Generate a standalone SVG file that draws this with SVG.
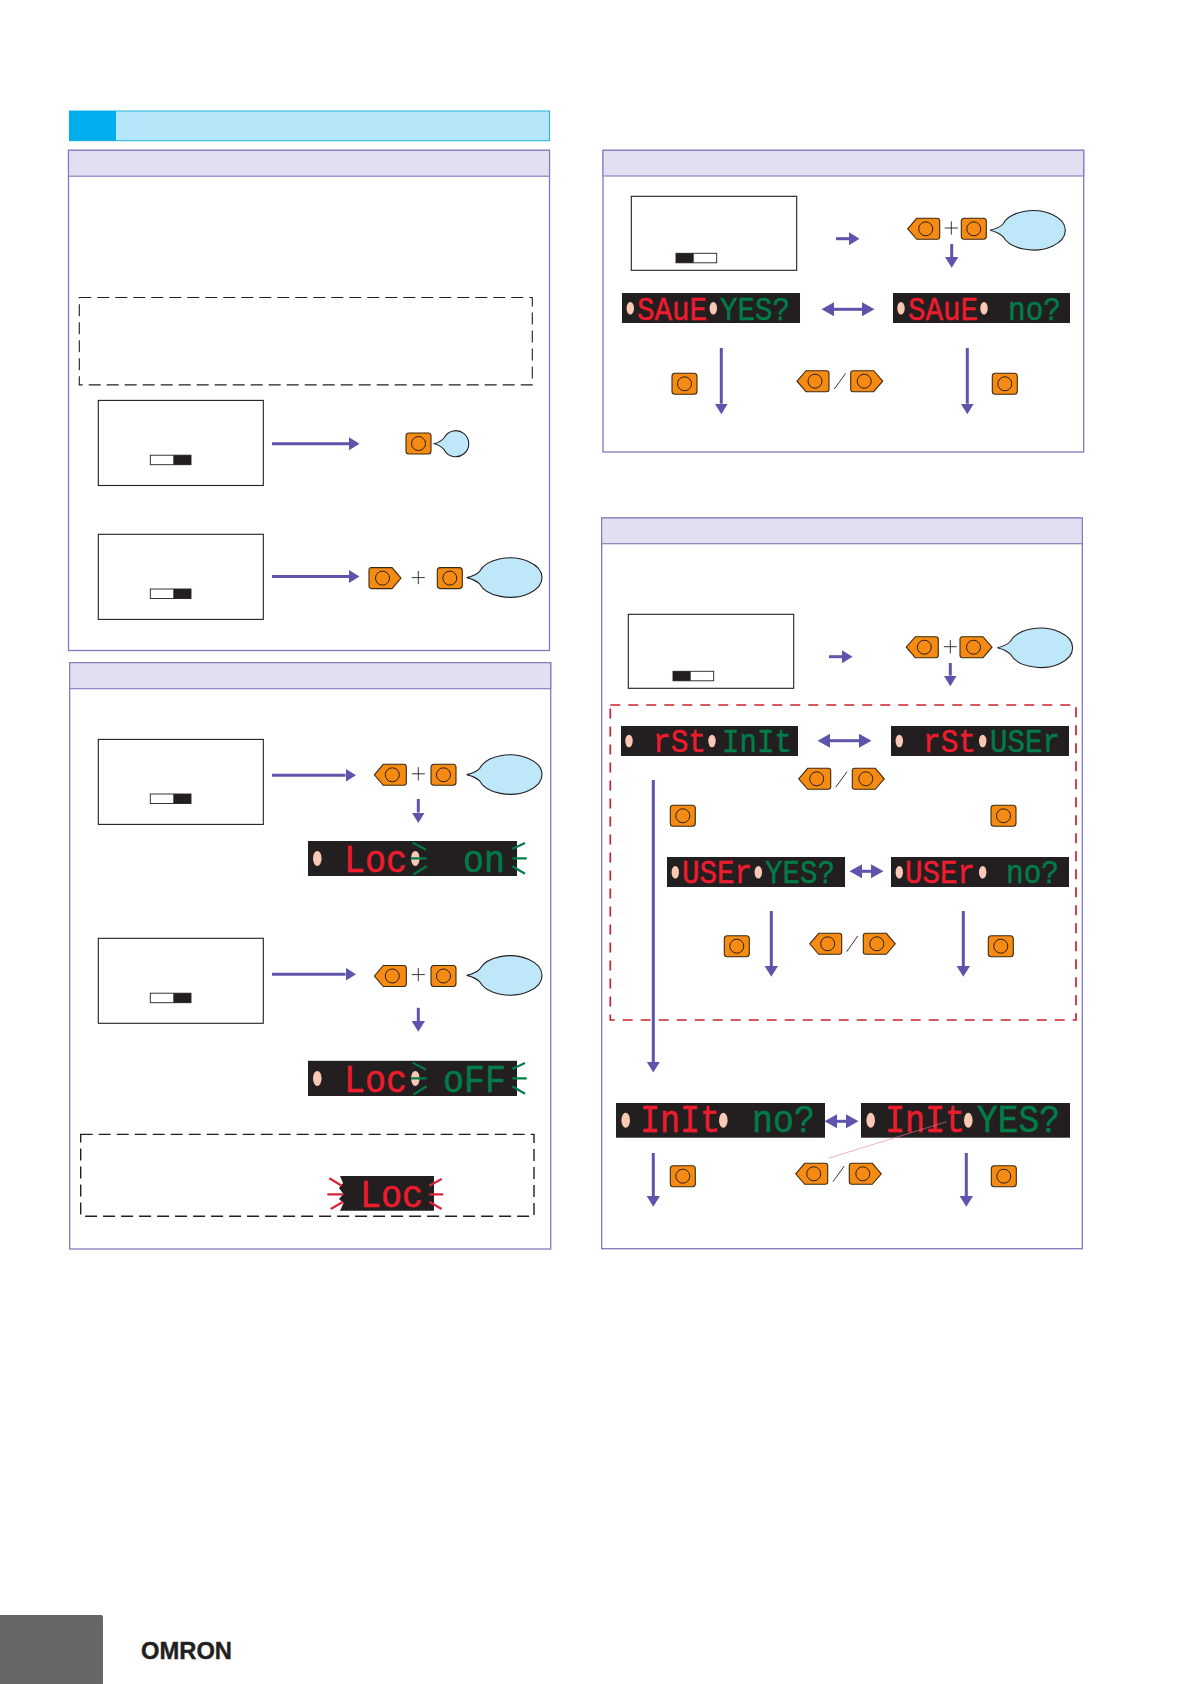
<svg xmlns="http://www.w3.org/2000/svg" xmlns:xlink="http://www.w3.org/1999/xlink" width="1190" height="1684" viewBox="0 0 1190 1684">
<style>
.panel{fill:#fff;stroke:#8279bd;stroke-width:1.3}
.band{fill:#e3dff2;stroke:#8279bd;stroke-width:1.1}
.box{fill:#fff;stroke:#231f20;stroke-width:1.1}
.dash{fill:none;stroke:#231f20;stroke-width:1.1;stroke-dasharray:12 6}
.dash2{fill:none;stroke:#231f20;stroke-width:1.4;stroke-dasharray:12 6}
.red-dash{fill:none;stroke:#c9222f;stroke-width:1.7;stroke-dasharray:10 8}
.sw{fill:#fff;stroke:#231f20;stroke-width:.9}
.swd{fill:#231f20}
.btn{fill:#f68b13;stroke:#3b2a12;stroke-width:1.1}
.ring{fill:none;stroke:#2a1e10;stroke-width:1}
.bub{fill:#bfe7fa;stroke:#231f20;stroke-width:1.1}
.op{fill:none;stroke:#231f20;stroke-width:.9}
.disp{fill:#231f20}
.dot{fill:#f9c9b6}
.arr{fill:none;stroke:#5e54ab;stroke-width:3;marker-end:url(#head)}
.arr2{fill:none;stroke:#5e54ab;stroke-width:3;marker-end:url(#head2);marker-start:url(#head2s)}
.seg{font-family:"Liberation Mono",monospace;font-size:34px;stroke-width:.5}
.segl{font-family:"Liberation Mono",monospace;font-size:38px;stroke-width:.5}
.r{fill:#ed1c2e;stroke:#ed1c2e}
.g{fill:#007c49;stroke:#007c49}
.fg{stroke:#007c49;stroke-width:2.2;fill:none}
.fr{stroke:#d9253a;stroke-width:2.2;fill:none}
</style>
<defs>
<marker id="head" markerUnits="userSpaceOnUse" markerWidth="14" markerHeight="16" viewBox="0 -8 14 16" refX="0" refY="0" orient="auto"><path d="M-.5,-6.8 L10.5,0 L-.5,6.8 Z" fill="#5e54ab"/></marker>
<marker id="head2" markerUnits="userSpaceOnUse" markerWidth="15" markerHeight="16" viewBox="0 -8 15 16" refX="0" refY="0" orient="auto"><path d="M0,-7 L12.5,0 L0,7 Z" fill="#5e54ab"/></marker>
<marker id="head2s" markerUnits="userSpaceOnUse" markerWidth="15" markerHeight="16" viewBox="-15 -8 15 16" refX="0" refY="0" orient="auto"><path d="M0,-7 L-12.5,0 L0,7 Z" fill="#5e54ab"/></marker>
<g id="b"><rect class="btn" x="0" y="0" width="25" height="21" rx="3"/><circle class="ring" cx="12.5" cy="10.5" r="7"/></g>
<g id="pl"><path class="btn" d="M0,10.5 L9,0 H29.5 Q32,0 32,2.5 V18.5 Q32,21 29.5,21 H9 Z"/><circle class="ring" cx="18" cy="10.5" r="7"/></g>
<g id="pr"><path class="btn" d="M32,10.5 L23,0 H2.5 Q0,0 0,2.5 V18.5 Q0,21 2.5,21 H23 Z"/><circle class="ring" cx="13.5" cy="10.5" r="7"/></g>
<path id="bl" class="bub" d="M0,0 Q9,-2 13,-6.3 A32,19.7 0 1 1 13,6.3 Q8,2 0,0 Z"/>
<path id="bs" class="bub" d="M0,0 Q7,-2 10,-6.2 A13,13 0 1 1 10,6.2 Q7,2 0,0 Z"/>
<g id="sw-r"><rect class="sw" x="0" y="0" width="40.7" height="9.5"/><rect class="swd" x="23" y="0" width="17.7" height="9.5"/></g>
<g id="sw-l"><rect class="sw" x="0" y="0" width="40.7" height="9.5"/><rect class="swd" x="0" y="0" width="17.7" height="9.5"/></g>
<g id="flash"><path class="fg" d="M412.7,842.6 L426,849.7 M411,858.4 H426.7 M413.3,874.6 L426.7,866.3 M512.3,848.9 L525,843 M512.3,858.4 H526.7 M512.3,866.3 L525,873.8"/></g>
</defs>

<rect width="1190" height="1684" fill="#fff"/>

<g id="title-bar">
<rect x="69.5" y="111" width="480" height="29.7" fill="#b5e6fa" stroke="#1fb3d6" stroke-width="1"/>
<rect x="69" y="111" width="47" height="29.7" fill="#00aeef"/>
</g>

<g id="panel-1">
<rect class="panel" x="68.5" y="150.3" width="481" height="500.2"/>
<rect class="band" x="68.5" y="150.3" width="481" height="25.9"/>
<rect class="dash" x="79.3" y="297.5" width="453" height="87.4"/>
<g id="p1-step-a">
<rect class="box" x="98.3" y="400.4" width="165" height="85.1"/>
<use xlink:href="#sw-r" href="#sw-r" x="150.3" y="455.2"/>
<use xlink:href="#b" href="#b" x="406" y="433"/>
<use xlink:href="#bs" href="#bs" x="434.3" y="443.7"/>
</g>
<g id="p1-step-b">
<rect class="box" x="98.3" y="534.3" width="165" height="85.1"/>
<use xlink:href="#sw-r" href="#sw-r" x="150.3" y="589"/>
<use xlink:href="#pr" href="#pr" x="369" y="567.6"/>
<path class="op" d="M411.8,577.6 H424.8 M418.3,571 V584.2"/>
<use xlink:href="#b" href="#b" x="437.3" y="567.6"/>
<use xlink:href="#bl" href="#bl" x="466.7" y="577.6"/>
</g>
</g>

<g id="panel-2">
<rect class="panel" x="69.7" y="662.7" width="481" height="586.3"/>
<rect class="band" x="69.7" y="662.7" width="481" height="26"/>
<g id="p2-step-a">
<rect class="box" x="98.3" y="739.4" width="165" height="85"/>
<use xlink:href="#sw-r" href="#sw-r" x="150.3" y="794"/>
<use xlink:href="#pl" href="#pl" x="374.3" y="764.3"/>
<path class="op" d="M411.8,773.8 H424.8 M418.3,767.2 V780.4"/>
<use xlink:href="#b" href="#b" x="431" y="764.3"/>
<use xlink:href="#bl" href="#bl" x="466.7" y="774.6"/>
</g>
<g id="p2-display-on">
<rect class="disp" x="308" y="841" width="209" height="35"/>
<ellipse class="dot" cx="317.3" cy="858.4" rx="4.3" ry="7.5"/>
<ellipse class="dot" cx="415.3" cy="858.4" rx="4.3" ry="7.5"/>
<text class="segl r" x="344" y="871.7" textLength="63" lengthAdjust="spacingAndGlyphs">Loc</text>
<text class="segl g" x="463" y="871.7" textLength="42" lengthAdjust="spacingAndGlyphs">on</text>
<use xlink:href="#flash" href="#flash"/>
</g>
<g id="p2-step-b">
<rect class="box" x="98.3" y="938.3" width="165" height="85"/>
<use xlink:href="#sw-r" href="#sw-r" x="150.3" y="993.2"/>
<use xlink:href="#pl" href="#pl" x="374.3" y="965.5"/>
<path class="op" d="M411.8,974.6 H424.8 M418.3,968 V981.2"/>
<use xlink:href="#b" href="#b" x="431" y="965.5"/>
<use xlink:href="#bl" href="#bl" x="466.7" y="975.4"/>
</g>
<g id="p2-display-off">
<rect class="disp" x="308" y="1060.8" width="209" height="35.2"/>
<ellipse class="dot" cx="317.3" cy="1078.4" rx="4.3" ry="7.5"/>
<ellipse class="dot" cx="415.3" cy="1078.4" rx="4.3" ry="7.5"/>
<text class="segl r" x="344" y="1091.5" textLength="63" lengthAdjust="spacingAndGlyphs">Loc</text>
<text class="segl g" x="443" y="1091.5" textLength="63" lengthAdjust="spacingAndGlyphs">oFF</text>
<use xlink:href="#flash" href="#flash" y="220"/>
</g>
<rect class="dash2" x="80.7" y="1134.4" width="453.3" height="81.8"/>
<g id="p2-display-loc">
<path class="disp" d="M340,1176 H434 V1210.7 H340 L343.5,1203 L339,1199 L343.5,1194 L339,1188 L343,1183 Z"/>
<text class="segl r" x="360" y="1206.7" textLength="63" lengthAdjust="spacingAndGlyphs">Loc</text>
<path class="fr" d="M329.3,1178.3 L341.7,1185.7 M327.3,1194.3 H343.3 M330.7,1209 L343.3,1201.7 M429.3,1185.7 L441.7,1179 M429.3,1194.3 H443.3 M429.3,1201.7 L441.7,1209"/>
</g>
</g>

<g id="panel-3">
<rect class="panel" x="603" y="150.3" width="480.7" height="301.7"/>
<rect class="band" x="603" y="150.3" width="480.7" height="25.7"/>
<g id="p3-start">
<rect class="box" x="631.3" y="196.3" width="165.4" height="74"/>
<use xlink:href="#sw-l" href="#sw-l" x="676" y="253.3"/>
</g>
<g id="p3-keys">
<use xlink:href="#pl" href="#pl" x="907.7" y="218.3"/>
<path class="op" d="M944.8,228 H957.8 M951.3,221.4 V234.6"/>
<use xlink:href="#b" href="#b" x="961.3" y="218.3"/>
<use xlink:href="#bl" href="#bl" x="990" y="230.3"/>
</g>
<g id="p3-display-yes">
<rect class="disp" x="622" y="293" width="178" height="30"/>
<ellipse class="dot" cx="630.3" cy="308.3" rx="3.7" ry="6.3"/>
<ellipse class="dot" cx="713.3" cy="308.3" rx="3.7" ry="6.3"/>
<text class="seg r" x="637" y="320" textLength="70" lengthAdjust="spacingAndGlyphs">SAuE</text>
<text class="seg g" x="720" y="320" textLength="70" lengthAdjust="spacingAndGlyphs">YES?</text>
</g>
<g id="p3-display-no">
<rect class="disp" x="893" y="293" width="177" height="30"/>
<ellipse class="dot" cx="901" cy="308.3" rx="3.7" ry="6.3"/>
<ellipse class="dot" cx="984" cy="308.3" rx="3.7" ry="6.3"/>
<text class="seg r" x="908" y="320" textLength="70" lengthAdjust="spacingAndGlyphs">SAuE</text>
<text class="seg g" x="1008" y="320" textLength="53" lengthAdjust="spacingAndGlyphs">no?</text>
</g>
<g id="p3-sel">
<use xlink:href="#b" href="#b" x="672" y="373.3"/>
<use xlink:href="#pl" href="#pl" x="797" y="370.7"/>
<path class="op" d="M834.3,389 L845.7,373.3"/>
<use xlink:href="#pr" href="#pr" x="850.7" y="370.7"/>
<use xlink:href="#b" href="#b" x="992.3" y="373.3"/>
</g>
</g>

<g id="panel-4">
<rect class="panel" x="601.7" y="518" width="480.6" height="730.7"/>
<rect class="band" x="601.7" y="518" width="480.6" height="25.7"/>
<g id="p4-start">
<rect class="box" x="628.3" y="614.3" width="165.4" height="74"/>
<use xlink:href="#sw-l" href="#sw-l" x="673" y="671.3"/>
</g>
<g id="p4-keys">
<use xlink:href="#pl" href="#pl" x="906.3" y="636.7"/>
<path class="op" d="M943.8,646.7 H956.8 M950.3,640.1 V653.3"/>
<use xlink:href="#pr" href="#pr" x="960" y="636.7"/>
<use xlink:href="#bl" href="#bl" x="997.3" y="647.8"/>
</g>
<rect class="red-dash" x="610.3" y="705" width="465.7" height="315"/>
<g id="p4-display-init">
<rect class="disp" x="621" y="726" width="177" height="30"/>
<ellipse class="dot" cx="629" cy="741" rx="3.7" ry="6.3"/>
<ellipse class="dot" cx="712" cy="741" rx="3.7" ry="6.3"/>
<text class="seg r" x="653" y="751.7" textLength="53" lengthAdjust="spacingAndGlyphs">rSt</text>
<text class="seg g" x="722" y="751.7" textLength="70" lengthAdjust="spacingAndGlyphs">InIt</text>
</g>
<g id="p4-display-user">
<rect class="disp" x="891" y="726" width="178" height="30"/>
<ellipse class="dot" cx="899.3" cy="741" rx="3.7" ry="6.3"/>
<ellipse class="dot" cx="982.7" cy="741" rx="3.7" ry="6.3"/>
<text class="seg r" x="923" y="751.7" textLength="53" lengthAdjust="spacingAndGlyphs">rSt</text>
<text class="seg g" x="990" y="751.7" textLength="70" lengthAdjust="spacingAndGlyphs">USEr</text>
</g>
<g id="p4-sel-1">
<use xlink:href="#pl" href="#pl" x="798.7" y="768.3"/>
<path class="op" d="M835.7,787.3 L847,771.7"/>
<use xlink:href="#pr" href="#pr" x="852.3" y="768.3"/>
<use xlink:href="#b" href="#b" x="670.3" y="805.3"/>
<use xlink:href="#b" href="#b" x="991" y="805.3"/>
</g>
<g id="p4-display-user-yes">
<rect class="disp" x="667" y="857" width="178" height="30"/>
<ellipse class="dot" cx="675.3" cy="872.3" rx="3.7" ry="6.3"/>
<ellipse class="dot" cx="758.3" cy="872.3" rx="3.7" ry="6.3"/>
<text class="seg r" x="682" y="883.3" textLength="70" lengthAdjust="spacingAndGlyphs">USEr</text>
<text class="seg g" x="765" y="883.3" textLength="70" lengthAdjust="spacingAndGlyphs">YES?</text>
</g>
<g id="p4-display-user-no">
<rect class="disp" x="891" y="857" width="178" height="30"/>
<ellipse class="dot" cx="899.3" cy="872.3" rx="3.7" ry="6.3"/>
<ellipse class="dot" cx="982.7" cy="872.3" rx="3.7" ry="6.3"/>
<text class="seg r" x="905" y="883.3" textLength="70" lengthAdjust="spacingAndGlyphs">USEr</text>
<text class="seg g" x="1006" y="883.3" textLength="53" lengthAdjust="spacingAndGlyphs">no?</text>
</g>
<g id="p4-sel-2">
<use xlink:href="#b" href="#b" x="724.3" y="935.7"/>
<use xlink:href="#pl" href="#pl" x="809.7" y="933.3"/>
<path class="op" d="M846.7,951.7 L857.7,936"/>
<use xlink:href="#pr" href="#pr" x="863.3" y="933.3"/>
<use xlink:href="#b" href="#b" x="988.3" y="935.7"/>
</g>
<g id="p4-display-init-no">
<rect class="disp" x="616" y="1103" width="209" height="34.7"/>
<ellipse class="dot" cx="625.7" cy="1120.3" rx="4.3" ry="7.5"/>
<ellipse class="dot" cx="723.3" cy="1120.3" rx="4.3" ry="7.5"/>
<text class="segl r" x="640" y="1131.7" textLength="80" lengthAdjust="spacingAndGlyphs">InIt</text>
<text class="segl g" x="752" y="1131.7" textLength="63" lengthAdjust="spacingAndGlyphs">no?</text>
</g>
<g id="p4-display-init-yes">
<rect class="disp" x="861" y="1103" width="209" height="34.7"/>
<ellipse class="dot" cx="870.7" cy="1120.3" rx="4.3" ry="7.5"/>
<ellipse class="dot" cx="968.3" cy="1120.3" rx="4.3" ry="7.5"/>
<text class="segl r" x="885" y="1131.7" textLength="80" lengthAdjust="spacingAndGlyphs">InIt</text>
<text class="segl g" x="977" y="1131.7" textLength="83" lengthAdjust="spacingAndGlyphs">YES?</text>
</g>
<path d="M828.3,1158.3 L946.7,1121.7" stroke="#ec7a96" stroke-width=".6" fill="none"/>
<g id="p4-sel-3">
<use xlink:href="#b" href="#b" x="670.3" y="1165.7"/>
<use xlink:href="#pl" href="#pl" x="795.7" y="1163.3"/>
<path class="op" d="M833,1181.7 L844.3,1166"/>
<use xlink:href="#pr" href="#pr" x="849.3" y="1163.3"/>
<use xlink:href="#b" href="#b" x="991.3" y="1165.7"/>
</g>
</g>

<g id="connectors">
<path class="arr" d="M272,443.7 H349"/>
<path class="arr" d="M272,576.5 H349"/>
<path class="arr" d="M272,775.3 H345.5"/>
<path class="arr" d="M272,974.2 H345.5"/>
<path class="arr" d="M418.3,799 V812.5"/>
<path class="arr" d="M418.3,1007.8 V1021.3"/>
<path class="arr" d="M836,238.7 H849"/>
<path class="arr" d="M951.7,244 V257.3"/>
<path class="arr2" d="M834,309.3 H862"/>
<path class="arr" d="M721.3,348 V403.7"/>
<path class="arr" d="M967.3,348 V403.7"/>
<path class="arr" d="M829,656.7 H842"/>
<path class="arr" d="M950.3,663 V675.7"/>
<path class="arr2" d="M830,740.7 H859"/>
<path class="arr" d="M653.3,780 V1062"/>
<path class="arr2" d="M862,871.3 H871"/>
<path class="arr" d="M771.3,911 V966.3"/>
<path class="arr" d="M963.3,911 V966.3"/>
<path class="arr2" d="M837,1121.3 H846"/>
<path class="arr" d="M653.3,1153 V1196.3"/>
<path class="arr" d="M966.3,1153 V1196.3"/>
</g>

<g id="footer">
<path d="M0,1615 H101 Q103,1615 103,1617 V1684 H0 Z" fill="#666"/>
<text x="141" y="1659" font-family="'Liberation Sans',Arial,sans-serif" font-weight="700" font-size="24" fill="#231f20" stroke="#231f20" stroke-width=".4" textLength="91" lengthAdjust="spacingAndGlyphs">OMRON</text>
</g>
</svg>
